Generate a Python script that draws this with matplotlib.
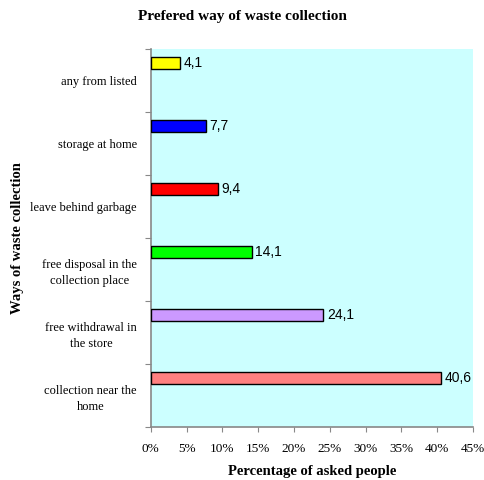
import matplotlib
matplotlib.use("Agg")
import matplotlib.pyplot as plt
from matplotlib.ticker import FuncFormatter, FixedLocator

categories = [
    "collection near the\nhome",
    "free withdrawal in\nthe store",
    "free disposal in the\ncollection place",
    "leave behind garbage",
    "storage at home",
    "any from listed",
]
values = [40.6, 24.1, 14.1, 9.4, 7.7, 4.1]
bar_colors = ["#FF8080", "#CC99FF", "#00FF00", "#FF0000", "#0000FF", "#FFFF00"]
x_ticks = [0, 5, 10, 15, 20, 25, 30, 35, 40, 45]

serif = "Liberation Serif"
sans = "Liberation Sans"

fig = plt.figure(figsize=(4.85, 4.8), dpi=100)
ax = fig.add_axes([0.311, 0.110, 0.664, 0.788])
ax.set_facecolor("#CCFFFF")

pos = list(range(len(categories)))
bar_pos = [p + 0.28 for p in pos]
ax.barh(bar_pos, values, height=0.19, color=bar_colors,
        edgecolor="black", linewidth=1.0, zorder=3)

for y, v in zip(bar_pos, values):
    ax.text(v + 0.5, y, f"{v:.1f}".replace(".", ","), va="center", ha="left",
            fontsize=10, family=sans, zorder=4)

ax.set_xlim(0, 45)
ax.set_ylim(-0.5, len(categories) - 0.5)

ax.xaxis.set_major_locator(FixedLocator(x_ticks))
ax.xaxis.set_major_formatter(FuncFormatter(lambda x, _: f"{int(x)}%"))
ax.tick_params(axis="x", direction="out", length=3.5, color="#888888",
               labelsize=9.5, pad=8)
for lbl in ax.get_xticklabels():
    lbl.set_family(serif)

ax.yaxis.set_major_locator(FixedLocator([p - 0.5 for p in pos] + [len(pos) - 0.5]))
ax.yaxis.set_major_formatter(FuncFormatter(lambda y, _: ""))
ax.yaxis.set_minor_locator(FixedLocator(pos))
ax.set_yticklabels(categories, minor=True)
ax.tick_params(axis="y", which="major", direction="out", length=4, color="#888888")
ax.tick_params(axis="y", which="minor", length=0, labelsize=9, pad=10)
for lbl in ax.get_yticklabels(minor=True):
    lbl.set_family(serif)
    lbl.set_multialignment("center")
    lbl.set_linespacing(1.45)

for side in ("top", "right"):
    ax.spines[side].set_visible(False)
for side in ("left", "bottom"):
    ax.spines[side].set_color("#888888")
    ax.spines[side].set_linewidth(1.2)

ax.set_xlabel("Percentage of asked people", family=serif, fontsize=10.5,
              fontweight="bold", labelpad=7)
ax.set_ylabel("Ways of waste collection", family=serif, fontsize=10.5,
              fontweight="bold", labelpad=4.5)
fig.text(0.5, 0.965, "Prefered way of waste collection", ha="center", va="center",
         family=serif, fontsize=11, fontweight="bold")

fig.savefig("out.png", dpi=100, facecolor="white")
